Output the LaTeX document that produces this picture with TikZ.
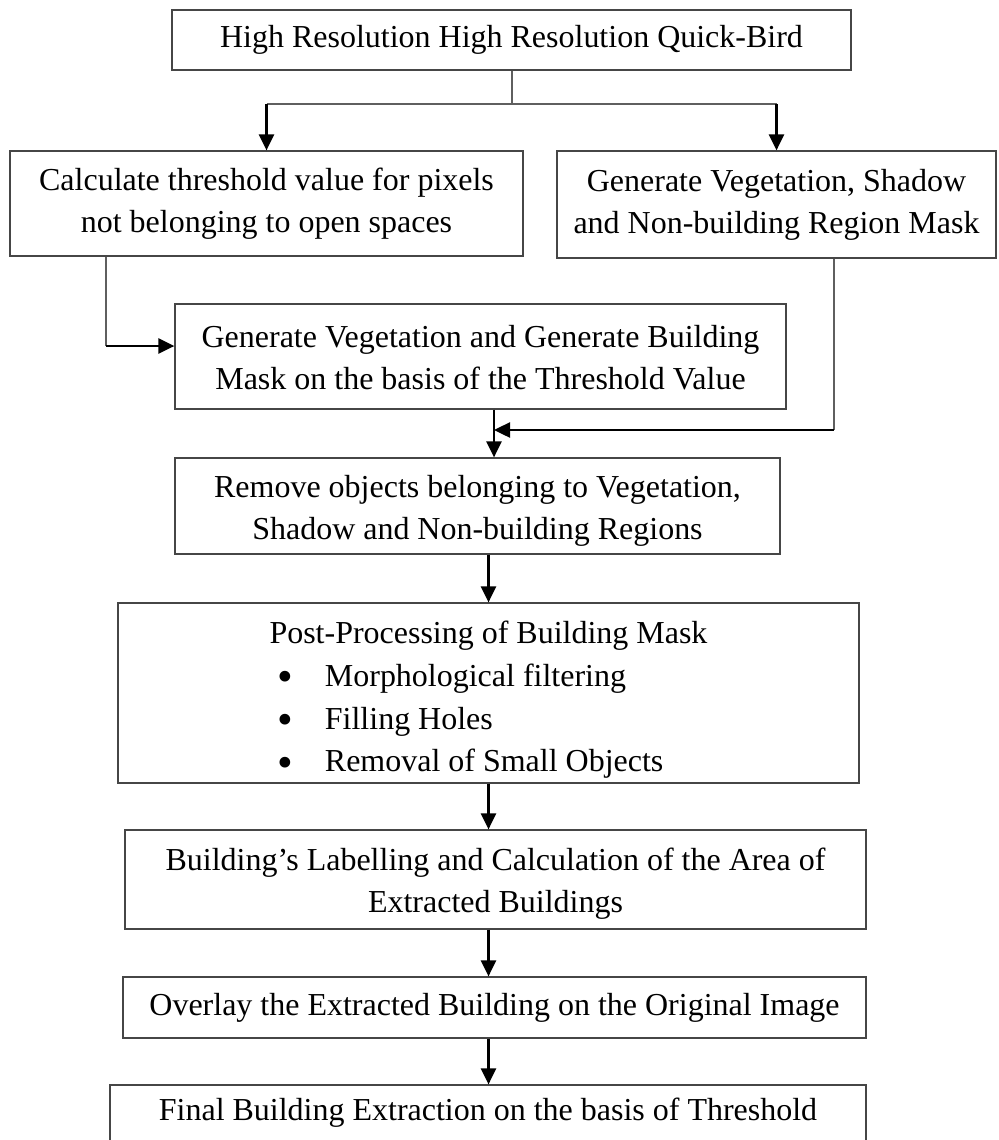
\documentclass[tikz,border=0pt]{standalone}
\usepackage{fontspec}
\setmainfont{Liberation Serif}
\usepackage{graphicx}
\usepackage{xcolor}
\usepackage{tikz}
\usetikzlibrary{arrows.meta, positioning, calc}
\definecolor{boxgray}{RGB}{70,70,70}
\definecolor{linegray}{RGB}{95,95,95}
\newcommand{\ppbullet}{\raisebox{-3.1pt}{\scalebox{1.4}{\textbullet}}}

\begin{document}
\begin{tikzpicture}[>={Triangle[length=0.32cm, width=0.3cm]}]
  \tikzstyle{procbox} = [rectangle, draw=boxgray, line width=0.7pt, align=center, inner sep=0pt, font=\fontsize{18.2}{23.9}\selectfont]
  \tikzstyle{link} = [draw=linegray, line width=0.7pt]
  \tikzstyle{flow} = [->, draw=black, line width=1.4pt]

  \useasboundingbox (0,0) rectangle (19.96,-22.8);

  \node [procbox, minimum width=13.58cm, minimum height=1.2cm] (input) at (10.23,-0.8) {High Resolution High Resolution Quick-Bird};
  \node [procbox, minimum width=10.26cm, minimum height=2.1cm] (thresh) at (5.33,-4.07) {Calculate threshold value for pixels\\not belonging to open spaces};
  \node [procbox, minimum width=8.78cm, minimum height=2.14cm] (vegmask) at (15.53,-4.09) {Generate Vegetation, Shadow\\and Non-building Region Mask};
  \node [procbox, minimum width=12.22cm, minimum height=2.1cm] (buildmask) at (9.61,-7.13) {\rule{0pt}{0.5cm}Generate Vegetation and Generate Building\\Mask on the basis of the Threshold Value};
  \node [procbox, minimum width=12.1cm, minimum height=1.92cm] (remove) at (9.55,-10.12) {\rule{0pt}{0.62cm}Remove objects belonging to Vegetation,\\Shadow and Non-building Regions};
  \node [procbox, minimum width=14.82cm, minimum height=3.6cm, font=\fontsize{18.2}{24.4}\selectfont] (post) at (9.77,-13.86) {\rule{0pt}{0.72cm}Post-Processing of Building Mask\\
    \makebox[14.8cm][l]{\hspace*{3.185cm}\ppbullet\hspace*{0.63cm}Morphological filtering}\\
    \makebox[14.8cm][l]{\hspace*{3.185cm}\ppbullet\hspace*{0.63cm}Filling Holes}\\
    \makebox[14.8cm][l]{\hspace*{3.185cm}\ppbullet\hspace*{0.63cm}Removal of Small Objects}};
  \node [procbox, minimum width=14.82cm, minimum height=1.98cm] (label) at (9.91,-17.59) {\rule{0pt}{0.6cm}Building’s Labelling and Calculation of the Area of\\Extracted Buildings};
  \node [procbox, minimum width=14.86cm, minimum height=1.22cm] (overlay) at (9.89,-20.15) {Overlay the Extracted Building on the Original Image};
  \node [procbox, minimum width=15.12cm, minimum height=1.12cm] (final) at (9.76,-22.26) {Final Building Extraction on the basis of Threshold};

  % bends of the side connectors
  \coordinate (fork) at (10.24,-2.08);
  \coordinate (lbend) at (2.12,-6.92);
  \coordinate (rbend) at (16.68,-8.6);
  \coordinate (join) at (9.88,-8.6);

  \draw[link] (input.south -| fork) -- (fork);
  \draw[link] (fork -| thresh.north) -- (fork -| vegmask.north);
  \draw[flow] (fork -| thresh.north) -- (thresh.north);
  \draw[flow] (fork -| vegmask.north) -- (vegmask.north);

  \draw[link] (thresh.south -| lbend) -- (lbend);
  \draw[flow] (lbend) -- (lbend -| buildmask.west);
  \draw[link] (vegmask.south -| rbend) -- (rbend);
  \draw[flow] (rbend) -- (join);
  \draw[flow] (buildmask.south -| join) -- (remove.north -| join);

  \draw[flow] (remove.south -| post.north) -- (post.north);
  \draw[flow] (post.south) -- (post.south |- label.north);
  \draw[flow] (label.south -| post.south) -- (overlay.north -| post.south);
  \draw[flow] (overlay.south -| post.south) -- (final.north -| post.south);
\end{tikzpicture}
\end{document}
